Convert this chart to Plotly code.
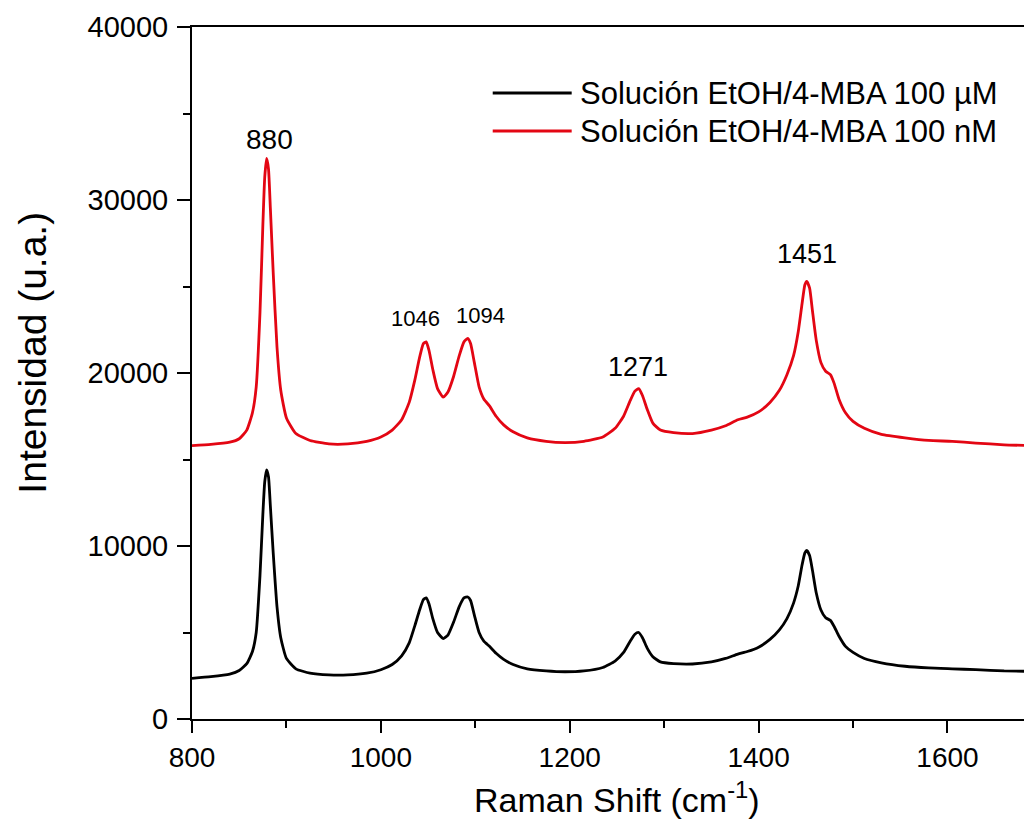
import plotly.graph_objects as go

# Raman shift (cm^-1) sample positions
raman_shift = [800, 820, 840, 850, 858, 864, 868, 872, 875, 877, 879, 881, 883, 886, 890, 894, 900, 910, 925, 945,
               965, 985, 1000, 1012, 1022, 1030, 1036, 1041, 1045, 1048, 1051, 1055, 1060, 1066, 1071, 1077, 1083, 1088, 1092, 1095,
               1099, 1104, 1109, 1115, 1122, 1130, 1140, 1155, 1175, 1195, 1215, 1235, 1248, 1257, 1264, 1269, 1273, 1277, 1282, 1288,
               1296, 1310, 1330, 1350, 1365, 1378, 1388, 1400, 1412, 1422, 1430, 1437, 1442, 1446, 1449, 1451, 1454, 1457, 1461, 1466,
               1471, 1476, 1480, 1485, 1492, 1500, 1512, 1530, 1555, 1580, 1605, 1630, 1660, 1690]

# Solución EtOH/4-MBA 100 µM (black)
intensity_100uM = [2350, 2450, 2600, 2800, 3200, 3900, 5000, 8300, 11800, 13700, 14400, 14000, 12300, 9600, 6500, 4700, 3500, 2900, 2650, 2550,
                   2550, 2650, 2850, 3150, 3650, 4400, 5400, 6300, 6900, 7000, 6650, 5800, 5000, 4650, 4850, 5600, 6500, 7000, 7050, 6850,
                   6000, 5000, 4500, 4200, 3800, 3450, 3150, 2900, 2780, 2730, 2780, 2980, 3350, 3850, 4500, 4900, 5000, 4700, 4100, 3600,
                   3300, 3200, 3180, 3300, 3500, 3750, 3900, 4150, 4600, 5150, 5800, 6700, 7700, 8900, 9600, 9750, 9450, 8600, 7300, 6300,
                   5850, 5700, 5350, 4800, 4200, 3850, 3500, 3250, 3050, 2950, 2900, 2850, 2780, 2750]

# Solución EtOH/4-MBA 100 nM (red)
intensity_100nM = [15800, 15870, 16000, 16200, 16700, 17700, 19200, 23500, 28500, 31300, 32400, 31800, 29500, 25800, 21500, 19000, 17400, 16500, 16100, 15900,
                   15900, 16050, 16300, 16700, 17300, 18300, 19600, 20900, 21700, 21800, 21300, 20200, 19100, 18600, 18900, 19800, 21000, 21800, 22000, 21700,
                   20600, 19200, 18500, 18100, 17500, 17000, 16600, 16250, 16050, 15980, 16050, 16300, 16800, 17500, 18400, 18950, 19100, 18700, 17900, 17100,
                   16700, 16550, 16500, 16700, 16950, 17300, 17450, 17750, 18300, 19000, 19900, 21000, 22400, 24000, 25100, 25300, 24900, 23600, 21900, 20600,
                   20100, 19900, 19400, 18500, 17700, 17200, 16800, 16450, 16250, 16100, 16050, 15950, 15850, 15800]

series_names = ["Solución EtOH/4-MBA 100 \u00b5M", "Solución EtOH/4-MBA 100 nM"]
series_colors = ["#000000", "#e30613"]

# peak labels: text, x position, y position
peak_labels = ["880", "1046", "1094", "1271", "1451"]
peak_label_x = [882, 1037, 1105, 1272, 1451]
peak_label_y = [33500, 23150, 23300, 20350, 26900]
peak_label_size = [28, 22, 22, 27, 27]

x_ticks = [800, 1000, 1200, 1400, 1600]
y_ticks = [0, 10000, 20000, 30000, 40000]

FONT = "Arial, Liberation Sans, sans-serif"

fig = go.Figure()
for name, yvals, col in zip(series_names, [intensity_100uM, intensity_100nM], series_colors):
    fig.add_trace(go.Scatter(x=raman_shift, y=yvals, mode="lines", name=name,
                             line=dict(color=col, width=2.8, shape="spline", smoothing=0.5),
                             showlegend=False))

for t, px, py, fs in zip(peak_labels, peak_label_x, peak_label_y, peak_label_size):
    fig.add_annotation(x=px, y=py, xref="x", yref="y", text=t, showarrow=False,
                       font=dict(family=FONT, size=fs, color="black"))

# manual legend (long line samples like the original)
legend_y = [0.9046, 0.8497]
for name, col, ly in zip(series_names, series_colors, legend_y):
    fig.add_shape(type="line", xref="paper", yref="paper", x0=0.358, x1=0.452, y0=ly, y1=ly,
                  line=dict(color=col, width=2.8))
    fig.add_annotation(xref="paper", yref="paper", x=0.459, y=ly, xanchor="left", yanchor="middle",
                       text=name, showarrow=False, font=dict(family=FONT, size=31, color="black"))

# axis titles
fig.add_annotation(xref="paper", yref="paper", x=-0.19, y=0.53, xanchor="center", yanchor="middle",
                   text="Intensidad (u.a.)", textangle=-90, showarrow=False,
                   font=dict(family=FONT, size=39, color="black"))
fig.add_annotation(xref="paper", yref="paper", x=0.506, y=-0.113, xanchor="center", yanchor="middle",
                   text="Raman Shift (cm<sup>-1</sup>)", showarrow=False,
                   font=dict(family=FONT, size=34, color="black"))

fig.update_layout(
    width=1024, height=821,
    margin=dict(l=184, r=0, t=19, b=110),
    paper_bgcolor="white", plot_bgcolor="white",
    font=dict(family=FONT, size=28, color="black"),
    showlegend=False,
)
fig.update_xaxes(range=[800, 1689.5], tickvals=x_ticks, ticks="outside", ticklen=12, tickwidth=2,
                 tickcolor="black", showline=True, linecolor="black", linewidth=2, mirror=True,
                 showgrid=False, zeroline=False, tickfont=dict(size=28),
                 minor=dict(dtick=100, tick0=800, ticks="outside", ticklen=7, tickwidth=2, tickcolor="black"))
fig.update_yaxes(range=[0, 40000], tickvals=y_ticks, tickformat="d", ticks="outside", ticklen=13, tickwidth=2,
                 tickcolor="black", showline=True, linecolor="black", linewidth=2,
                 showgrid=False, zeroline=False, tickfont=dict(size=29), ticklabelstandoff=3,
                 minor=dict(dtick=5000, tick0=0, ticks="outside", ticklen=7, tickwidth=2, tickcolor="black"))

fig.write_html("out.html")
